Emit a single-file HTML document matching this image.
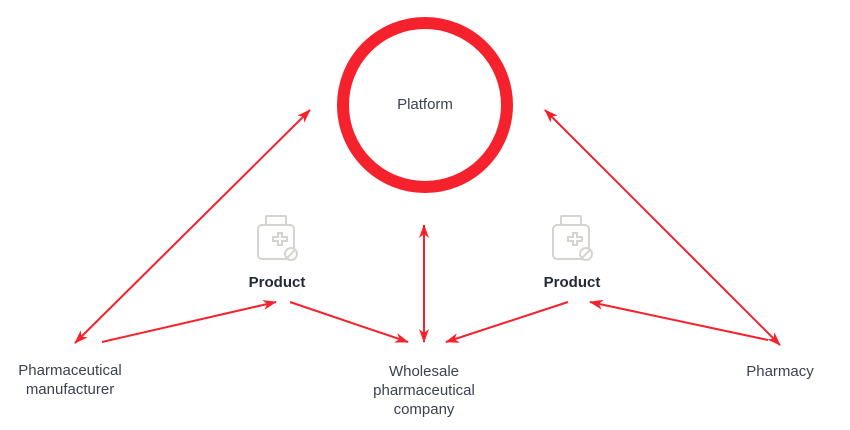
<!DOCTYPE html>
<html><head><meta charset="utf-8"><style>
body{margin:0;background:#fff;width:850px;height:430px;overflow:hidden;font-family:"Liberation Sans",sans-serif}
.t{position:absolute;color:#3b4250;font-size:15px;text-align:center;line-height:19px}
</style></head><body>
<svg width="850" height="430" style="position:absolute;left:0;top:0">
<defs><marker id="a" markerWidth="14" markerHeight="10" refX="13" refY="5" orient="auto-start-reverse" markerUnits="userSpaceOnUse"><path d="M0,0 L14,5 L0,10 L4,5 Z" fill="#f5222d"/></marker></defs>
<circle cx="425" cy="105" r="82" fill="none" stroke="#f5222d" stroke-width="12"/>
<g stroke="#f5222d" stroke-width="2" fill="none">
<line x1="75" y1="343" x2="310" y2="110" marker-start="url(#a)" marker-end="url(#a)"/>
<line x1="545" y1="110" x2="780" y2="345" marker-start="url(#a)" marker-end="url(#a)"/>
<line x1="424" y1="225" x2="424" y2="342" marker-start="url(#a)" marker-end="url(#a)"/>
<line x1="102" y1="342" x2="276" y2="302" marker-end="url(#a)"/>
<line x1="290" y1="302" x2="408" y2="342" marker-end="url(#a)"/>
<line x1="568" y1="302" x2="446" y2="342" marker-end="url(#a)"/>
<line x1="768" y1="340" x2="590" y2="302" marker-end="url(#a)"/>
</g>
<g stroke="#d6d4cf" stroke-width="2" fill="none">
<g transform="translate(258,216)">
<rect x="8" y="0" width="20" height="9" rx="1"/><path d="M4,9 h28 a4,4 0 0 1 4,4 v26 a4,4 0 0 1 -4,4 h-28 a4,4 0 0 1 -4,-4 v-26 a4,4 0 0 1 4,-4z"/><path d="M15,21 h5 v-4 h4 v4 h5 v4 h-5 v4 h-4 v-4 h-5z"/><circle cx="33" cy="38" r="6" fill="#fff"/><line x1="29" y1="42" x2="37" y2="34"/></g>
<g transform="translate(553,216)">
<rect x="8" y="0" width="20" height="9" rx="1"/><path d="M4,9 h28 a4,4 0 0 1 4,4 v26 a4,4 0 0 1 -4,4 h-28 a4,4 0 0 1 -4,-4 v-26 a4,4 0 0 1 4,-4z"/><path d="M15,21 h5 v-4 h4 v4 h5 v4 h-5 v4 h-4 v-4 h-5z"/><circle cx="33" cy="38" r="6" fill="#fff"/><line x1="29" y1="42" x2="37" y2="34"/></g>
</g>
</svg>
<div class="t" style="left:345px;top:95px;width:160px">Platform</div>
<div class="t" style="left:217px;top:273px;width:120px;font-weight:bold;color:#222a38">Product</div>
<div class="t" style="left:512px;top:273px;width:120px;font-weight:bold;color:#222a38">Product</div>
<div class="t" style="left:0;top:361px;width:140px">Pharmaceutical<br>manufacturer</div>
<div class="t" style="left:344px;top:362px;width:160px">Wholesale<br>pharmaceutical<br>company</div>
<div class="t" style="left:720px;top:362px;width:120px">Pharmacy</div>
</body></html>
